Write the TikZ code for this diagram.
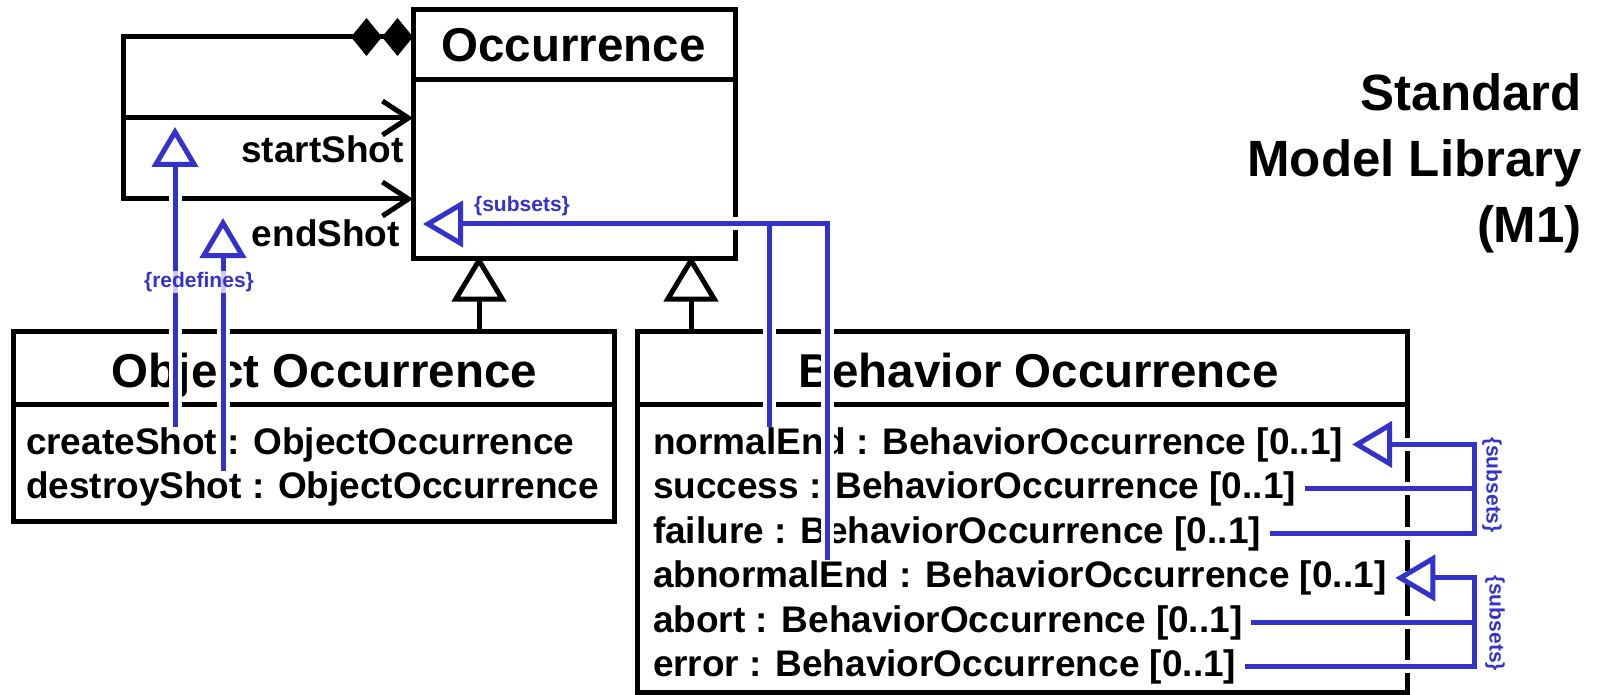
\documentclass[tikz,border=0pt]{standalone}
\usepackage{fontspec}
\setmainfont{Liberation Sans}
\usetikzlibrary{arrows.meta,calc}
\definecolor{umlblue}{RGB}{51,51,204}
\newcommand\bluewires[2]{%
  \draw[#1,#2] (rx1 |- cs.north) -- (rt1);
  \draw[#1,#2] (rx2 |- ds.north) -- (rt2);
  \draw[#1,#2] (xb |- ab.north) -- (xb |- ys) -- (st);
  \draw[#1] (xa |- ne.north) -- (xa |- ys);
  \draw[#1,#2] (fa.east) -- (fa.east -| xm) -- (xm |- ne.east) -- (ne.east);
  \draw[#1] (su.east) -- (su.east -| xm);
  \draw[#1,#2] (er.east) -- (er.east -| xm) -- (xm |- ab.east) -- (ab.east);
  \draw[#1] (abo.east) -- (abo.east -| xm);
}
\begin{document}
\begin{tikzpicture}[x=1pt,y=-1pt,
  box/.style={draw, line width=5pt, inner sep=0pt, outer sep=0pt, anchor=north west},
  ttl/.style={font=\fontsize{47.5}{50}\selectfont\bfseries, inner sep=0pt, anchor=base},
  attr/.style={font=\fontsize{37}{40}\selectfont\bfseries, inner sep=0pt, outer xsep=9pt, anchor=base west},
  rolelbl/.style={font=\fontsize{37}{40}\selectfont\bfseries, inner sep=0pt, anchor=base east},
  libtxt/.style={font=\fontsize{51}{60}\selectfont\bfseries, inner sep=0pt, anchor=base east},
  blk/.style={line width=5pt, line join=miter},
  gen/.style={blk, -{Triangle[length=46pt,width=54pt,fill=white]}, shorten >=-2.5pt},
  barb/.style={-{Straight Barb[length=26pt,width=34pt]}},
  casing/.style={draw=white, line width=13pt, line join=miter},
  bluewire/.style={draw=umlblue, line width=5pt, line join=miter},
  bluetri/.style={-{Triangle[length=40pt,width=46pt,fill=white]}},
  note/.style={text=umlblue, font=\fontsize{21}{24}\selectfont\bfseries, inner sep=1pt},
]
\useasboundingbox (0,0) rectangle (1598,695);

% classes
\node[box, minimum width=322pt, minimum height=248pt] (occ) at (413,10) {};
\draw[blk] ($(occ.north west)+(0,70)$) -- ($(occ.north east)+(0,70)$);
\node[ttl] (occT) at (573.5,62) {Occurrence};

\node[box, minimum width=601pt, minimum height=190pt] (obj) at (13,331) {};
\draw[blk] ($(obj.north west)+(0,73)$) -- ($(obj.north east)+(0,73)$);
\node[ttl] (objT) at (324.5,387) {Object Occurrence};
\node[attr] (cs) at (17,454) {createShot : ObjectOccurrence};
\node[attr] (ds) at (17,498.5) {destroyShot : ObjectOccurrence};

\node[box, minimum width=770pt, minimum height=361pt] (beh) at (637,331) {};
\draw[blk] ($(beh.north west)+(0,73)$) -- ($(beh.north east)+(0,73)$);
\node[ttl] (behT) at (1038.5,387) {Behavior Occurrence};
\node[attr] (ne) at (644,454) {normalEnd : BehaviorOccurrence [0..1]};
\node[attr] (su) at (644,498.5) {success : BehaviorOccurrence [0..1]};
\node[attr] (fa) at (644,543) {failure : BehaviorOccurrence [0..1]};
\node[attr] (ab) at (644,587.5) {abnormalEnd : BehaviorOccurrence [0..1]};
\node[attr] (abo) at (644,632) {abort : BehaviorOccurrence [0..1]};
\node[attr] (er) at (644,676.5) {error : BehaviorOccurrence [0..1]};

% generalizations
\coordinate (g1) at (479,0);
\coordinate (g2) at (691,0);
\draw[gen] (g1 |- obj.north) -- (g1 |- occ.south);
\draw[gen] (g2 |- beh.north) -- (g2 |- occ.south);

% shots loop
\coordinate (lt) at (123,37);
\coordinate (lm) at (123,118);
\coordinate (lb) at (123,199);
\draw[blk, {Diamond[length=31pt,width=38pt,line width=0pt,sep=0pt]Diamond[length=31pt,width=38pt,line width=0pt]}-{Straight Barb[length=26pt,width=34pt]}]
  (occ.west |- lt) -- (lt) -- (lb) -- (occ.west |- lb);
\draw[blk, barb] (lm) -- (occ.west |- lm);
\node[rolelbl] (ss) at (404,163) {startShot};
\node[rolelbl] (es) at (400,246) {endShot};

% library caption
\node[libtxt] (lib1) at (1582,111) {Standard};
\node[libtxt] (lib2) at (1582,177) {Model Library};
\node[libtxt] (lib3) at (1582,243) {(M1)};

% blue connectors
\coordinate (rx1) at (175,0);
\coordinate (rx2) at (223,0);
\coordinate (rt1) at (175,127);
\coordinate (rt2) at (223,218);
\coordinate (xa) at (769,0);
\coordinate (xb) at (827,0);
\coordinate (ys) at (0,224);
\coordinate (st) at (423,224);
\coordinate (xm) at (1474,0);
\bluewires{casing}{}
\bluewires{bluewire}{bluetri}

\node[note, fill=white, fill opacity=0.75, text opacity=1] (redef) at (199,282) {\{redefines\}};
\node[note] (sub1) at (522,206) {\{subsets\}};
\node[note, rotate=-90] (sub2) at (1492,485) {\{subsets\}};
\node[note, rotate=-90] (sub3) at (1495,623) {\{subsets\}};
\end{tikzpicture}
\end{document}
